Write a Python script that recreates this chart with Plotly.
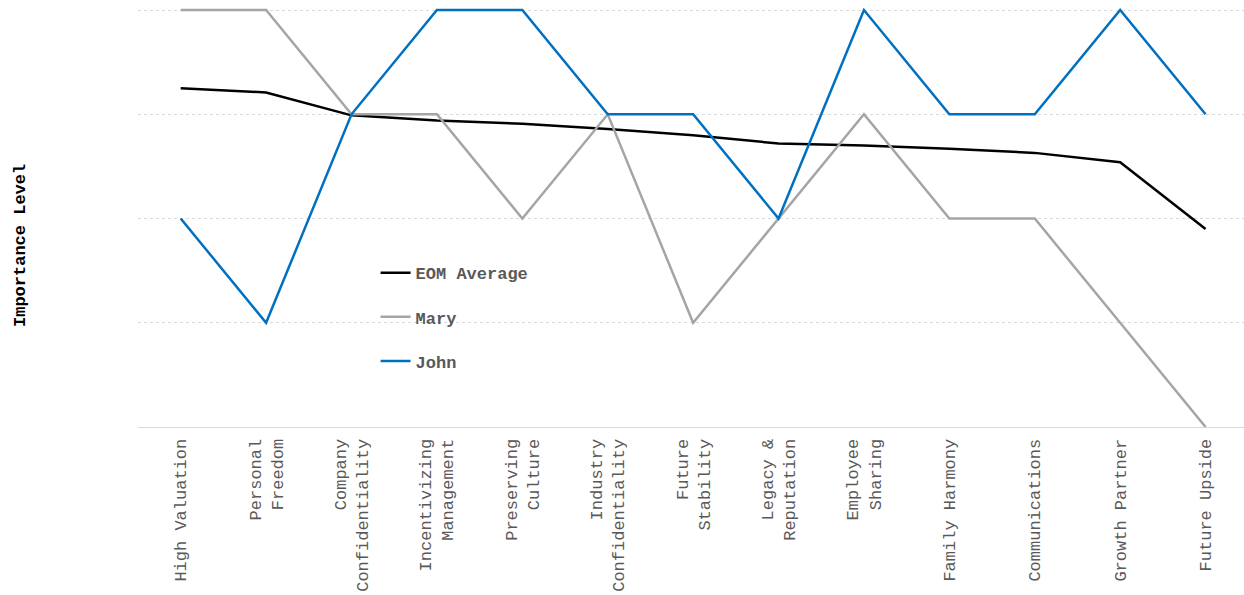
import plotly.graph_objects as go

categories = ["High Valuation", "Personal<br>Freedom", "Company<br>Confidentiality",
              "Incentivizing<br>Management", "Preserving<br>Culture", "Industry<br>Confidentiality",
              "Future<br>Stability", "Legacy &<br>Reputation", "Employee<br>Sharing",
              "Family Harmony", "Communications", "Growth Partner", "Future Upside"]
eom_average = [4.25, 4.21, 3.99, 3.94, 3.91, 3.86, 3.80, 3.72, 3.70, 3.67, 3.63, 3.54, 2.90]
mary = [5, 5, 4, 4, 3, 4, 2, 3, 4, 3, 3, 2, 1]
john = [3, 2, 4, 5, 5, 4, 4, 3, 5, 4, 4, 5, 4]

FONT = "Liberation Mono, Courier New, monospace"

fig = go.Figure()
for name, vals, color in [("EOM Average", eom_average, "#000000"),
                          ("Mary", mary, "#A5A5A5"),
                          ("John", john, "#0070C0")]:
    fig.add_trace(go.Scatter(x=categories, y=vals, mode="lines", name=name,
                             legendgroup=name,
                             line=dict(color=color, width=2.5)))

fig.update_layout(
    width=1244, height=595,
    margin=dict(l=138, r=0, t=8, b=168),
    plot_bgcolor="white", paper_bgcolor="white",
    font=dict(family=FONT, size=17, color="#595959"),
    showlegend=True,
    legend=dict(x=0.2148, y=0.410, xanchor="left", yanchor="top",
                bgcolor="rgba(0,0,0,0)", tracegroupgap=19,
                font=dict(family=FONT, size=17, color="#595959", weight="bold"),
                itemwidth=30),
    xaxis=dict(type="category", range=[-0.5, 12.45], tickangle=-90,
               showgrid=False, showline=True, linecolor="#D9D9D9", linewidth=1,
               ticks="", ticklabelstandoff=4,
               tickfont=dict(family=FONT, size=17, color="#595959")),
    yaxis=dict(range=[1, 5.02], dtick=1, showticklabels=False, showgrid=True,
               gridcolor="#D9D9D9", griddash="dot", gridwidth=1,
               zeroline=False, showline=False, ticks=""),
)

fig.add_annotation(text="<b>Importance Level</b>", xref="paper", yref="paper",
                   x=-138/1106 + 20/1106, y=(427-246)/419, xanchor="center", yanchor="middle",
                   textangle=-90, showarrow=False,
                   font=dict(family=FONT, size=17, color="#000000"))

fig.write_html("out.html")
